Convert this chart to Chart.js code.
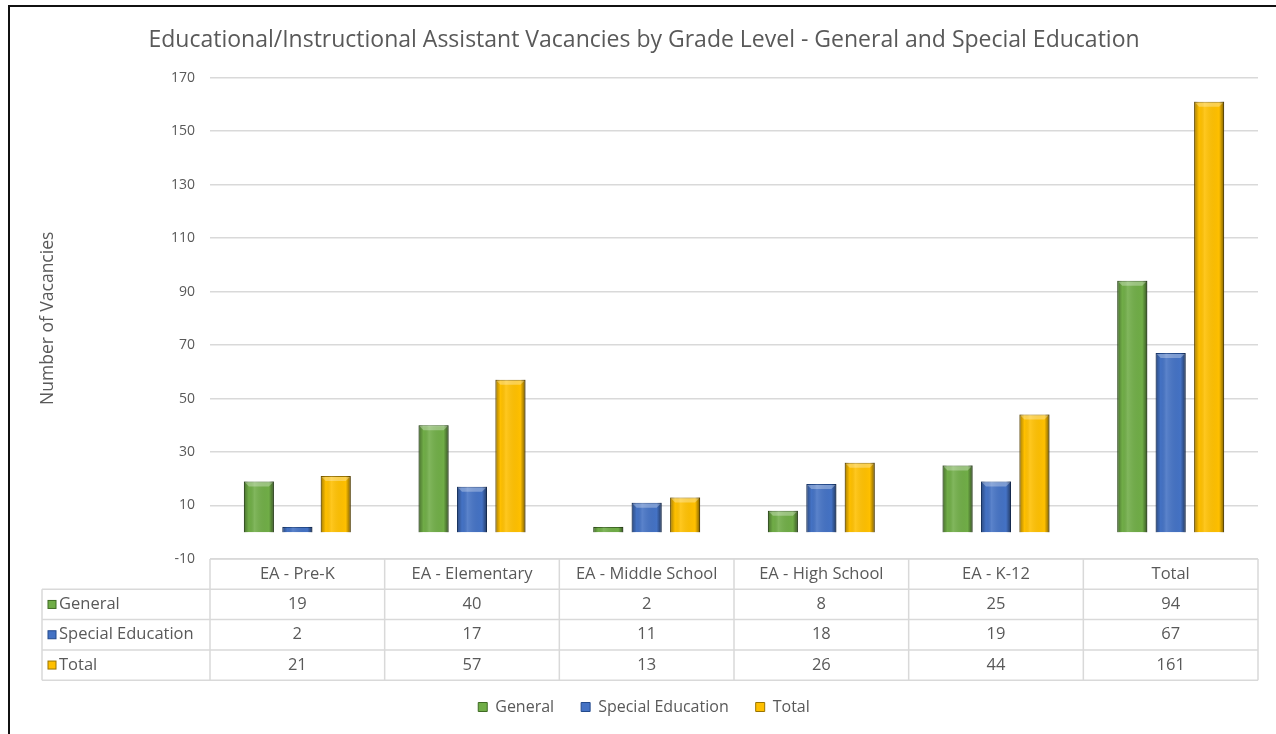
<!DOCTYPE html>
<html>
<head>
<meta charset="utf-8">
<script src="https://cdn.jsdelivr.net/npm/chart.js@4/dist/chart.umd.min.js"></script>
<style>
  html, body { margin: 0; padding: 0; background: #fff; }
  #wrap { width: 1276px; height: 734px; }
</style>
</head>
<body>
<div id="wrap"><canvas id="vacancies" width="1276" height="734"></canvas></div>
<script>
// data
var categories = ['EA - Pre-K', 'EA - Elementary', 'EA - Middle School', 'EA - High School', 'EA - K-12', 'Total'];
var generalVacancies = [19, 40, 2, 8, 25, 94];
var specialEdVacancies = [2, 17, 11, 18, 19, 67];
var totalVacancies = [21, 57, 13, 26, 44, 161];

var seriesNames = ['General', 'Special Education', 'Total'];
var seriesColors = ['#70ad47', '#4472c4', '#ffc000'];
var edgeColors = ['#3f6a24', '#234a8c', '#9a7400'];
var textGrey = '#595959';
var lineGrey = '#d9d9d9';
var fontName = '"Open Sans", Lato, sans-serif';

// white page plus the black frame on left/top
var framePlugin = {
    id: 'frame',
    beforeDraw: function (chart) {
        var ctx = chart.ctx;
        ctx.save();
        ctx.fillStyle = '#fff';
        ctx.fillRect(0, 0, chart.width, chart.height);
        ctx.strokeStyle = '#111';
        ctx.lineWidth = 2;
        ctx.beginPath();
        ctx.moveTo(9, chart.height);
        ctx.lineTo(9, 6);
        ctx.lineTo(chart.width, 6);
        ctx.stroke();
        ctx.restore();
    }
};

// bevel look on top of each bar
var bevelPlugin = {
    id: 'bevel',
    afterDatasetsDraw: function (chart) {
        var ctx = chart.ctx;
        ctx.save();
        chart.data.datasets.forEach(function (ds, di) {
            chart.getDatasetMeta(di).data.forEach(function (bar) {
                var w = bar.width, left = bar.x - w / 2, top = Math.min(bar.y, bar.base), h = Math.abs(bar.base - bar.y);
                var edge = Math.min(5, w / 6);
                var g = ctx.createLinearGradient(left, 0, left + w, 0);
                g.addColorStop(0, 'rgba(0,0,0,0.35)');
                g.addColorStop(edge / w, 'rgba(0,0,0,0)');
                g.addColorStop(0.35, 'rgba(255,255,255,0.12)');
                g.addColorStop(1 - edge / w, 'rgba(0,0,0,0)');
                g.addColorStop(1, 'rgba(0,0,0,0.5)');
                ctx.fillStyle = g;
                ctx.fillRect(left, top, w, h);
                if (h > 6) {
                    ctx.fillStyle = 'rgba(255,255,255,0.3)';
                    ctx.beginPath();
                    ctx.moveTo(left + 1, top + 1);
                    ctx.lineTo(left + w - 1, top + 1);
                    ctx.lineTo(left + w - edge, top + edge);
                    ctx.lineTo(left + edge, top + edge);
                    ctx.closePath();
                    ctx.fill();
                }
            });
        });
        ctx.restore();
    }
};

// data table under the plot
var tablePlugin = {
    id: 'dataTable',
    afterDraw: function (chart) {
        var ctx = chart.ctx, area = chart.chartArea, xs = chart.scales.x;
        var rows = [generalVacancies, specialEdVacancies, totalVacancies];
        var rowH = 30.3, labelLeft = 42;
        var top = area.bottom;
        var colW = xs.width / categories.length;
        ctx.save();
        ctx.strokeStyle = lineGrey;
        ctx.lineWidth = 1.5;
        ctx.beginPath();
        ctx.moveTo(area.left, top); ctx.lineTo(area.right, top);
        for (var r = 1; r <= rows.length + 1; r++) {
            var y = top + r * rowH;
            ctx.moveTo(labelLeft, y); ctx.lineTo(area.right, y);
        }
        ctx.moveTo(labelLeft, top + rowH); ctx.lineTo(labelLeft, top + rowH * 4);
        for (var c = 0; c <= categories.length; c++) {
            var x = area.left + c * colW;
            ctx.moveTo(x, top); ctx.lineTo(x, top + rowH * 4);
        }
        ctx.stroke();

        ctx.fillStyle = textGrey;
        ctx.font = '16.5px ' + fontName;
        ctx.textBaseline = 'middle';
        ctx.textAlign = 'center';
        categories.forEach(function (cat, i) {
            ctx.fillText(cat, xs.getPixelForValue(i), top + rowH / 2);
        });
        rows.forEach(function (vals, ri) {
            var cy = top + rowH * (ri + 1.5);
            vals.forEach(function (v, i) {
                ctx.fillText(String(v), xs.getPixelForValue(i), cy);
            });
        });
        ctx.textAlign = 'left';
        rows.forEach(function (vals, ri) {
            var cy = top + rowH * (ri + 1.5);
            ctx.fillStyle = seriesColors[ri];
            ctx.fillRect(labelLeft + 6, cy - 4, 8, 8);
            ctx.strokeStyle = edgeColors[ri];
            ctx.lineWidth = 1;
            ctx.strokeRect(labelLeft + 6, cy - 4, 8, 8);
            ctx.fillStyle = textGrey;
            ctx.fillText(seriesNames[ri], labelLeft + 17, cy);
        });
        ctx.restore();
    }
};

var barData = [generalVacancies, specialEdVacancies, totalVacancies];

var vacancyChart = new Chart(document.getElementById('vacancies').getContext('2d'), {
    type: 'bar',
    data: {
        labels: categories,
        datasets: barData.map(function (vals, i) {
            return {
                label: seriesNames[i],
                data: vals,
                backgroundColor: seriesColors[i],
                borderColor: edgeColors[i],
                borderWidth: 1,
                barPercentage: 0.78,
                categoryPercentage: 0.66
            };
        })
    },
    options: {
        responsive: false,
        animation: false,
        layout: { padding: { left: 30, right: 18, top: 0, bottom: 9 } },
        plugins: {
            title: {
                display: true,
                text: 'Educational/Instructional Assistant Vacancies by Grade Level - General and Special Education',
                color: textGrey,
                font: { family: fontName, size: 23, weight: 'normal' },
                padding: { top: 27, bottom: 23 }
            },
            legend: {
                position: 'bottom',
                labels: {
                    color: textGrey,
                    font: { family: fontName, size: 16 },
                    boxWidth: 9,
                    boxHeight: 9,
                    padding: 27
                }
            },
            tooltip: { enabled: false }
        },
        scales: {
            x: {
                grid: { display: false },
                border: { display: false },
                ticks: { display: false },
                afterFit: function (scale) { scale.height = 113; }
            },
            y: {
                min: -10,
                max: 170,
                ticks: {
                    stepSize: 20,
                    color: textGrey,
                    font: { family: fontName, size: 14 },
                    padding: 15
                },
                grid: { color: lineGrey, lineWidth: 1.5, drawTicks: false },
                border: { display: false },
                title: {
                    display: true,
                    text: 'Number of Vacancies',
                    color: textGrey,
                    font: { family: fontName, size: 17.5 },
                    padding: { top: 8 }
                },
                afterFit: function (scale) { scale.width = 180; }
            }
        }
    },
    plugins: [framePlugin, bevelPlugin, tablePlugin]
});
</script>
</body>
</html>
